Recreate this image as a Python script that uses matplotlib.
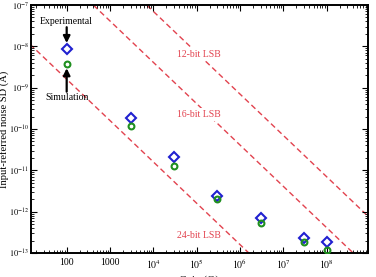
import matplotlib
matplotlib.use('Agg')
import matplotlib.pyplot as plt
import matplotlib.ticker as mticker
import numpy as np

plt.rcParams['font.family'] = ['Liberation Serif', 'DejaVu Serif']
plt.rcParams['mathtext.fontset'] = 'stix'

# gain values (ohm) and measured / simulated noise (A)
gains = [100, 3e3, 3e4, 3e5, 3e6, 3e7, 1e8]
experimental = [8.6e-9, 1.8e-10, 2.1e-11, 2.4e-12, 7.2e-13, 2.3e-13, 1.8e-13]
simulation = [3.7e-9, 1.2e-10, 1.3e-11, 2.0e-12, 5.4e-13, 1.8e-13, 1.17e-13]

# LSB current levels: LSB voltage divided by gain
lsb_bits = [12, 16, 24]
lsb_volts = [7.0e-4, 4.1e-5, 1.6e-7]
lsb_text_y = [6.5e-9, 2.2e-10, 2.7e-13]

xtick_vals = [1e2, 1e3, 1e4, 1e5, 1e6, 1e7, 1e8]
xtick_labels = ['100', '1000', r'$10^4$', r'$10^5$', r'$10^6$', r'$10^7$', r'$10^8$']
ytick_vals = [1e-13, 1e-12, 1e-11, 1e-10, 1e-9, 1e-8, 1e-7]
ytick_labels = [r'$10^{\mathsf{-}%d}$' % e for e in [13, 12, 11, 10, 9, 8, 7]]

fig = plt.figure(figsize=(3.76, 2.77), dpi=100)
ax = fig.add_axes([0.0824, 0.0866, 0.8963, 0.8954])

red = '#e2434f'
g_line = np.array([10.0, 2e9])
for bits, v, ty in zip(lsb_bits, lsb_volts, lsb_text_y):
    ax.plot(g_line, v / g_line, color=red, lw=1.0, ls=(0, (4, 2.5)), zorder=1)
    ax.text(1.1e5, ty, '%d-bit LSB' % bits, color=red, fontsize=7, ha='center', va='center',
            bbox=dict(facecolor='white', edgecolor='none', pad=1.5), zorder=2)

ax.plot(gains, experimental, ls='none', marker='D', ms=4.8, mfc='none', mec='#2020d0', mew=1.5, zorder=3)
ax.plot(gains, simulation, ls='none', marker='o', ms=4.2, mfc='none', mec='#1f8f1f', mew=1.5, zorder=3)

# arrows pointing to first pair
ax.text(100, 3.9e-8, 'Experimental', fontsize=7, ha='center', va='center')
ax.annotate('', xy=(100, 1.2e-8), xytext=(100, 2.9e-8),
            arrowprops=dict(arrowstyle='-|>', color='k', lw=1.6, mutation_scale=10, shrinkA=0, shrinkB=0))
ax.text(100, 5.7e-10, 'Simulation', fontsize=7, ha='center', va='center')
ax.annotate('', xy=(100, 2.95e-9), xytext=(100, 8.0e-10),
            arrowprops=dict(arrowstyle='-|>', color='k', lw=1.6, mutation_scale=10, shrinkA=0, shrinkB=0))

ax.set_xscale('log')
ax.set_yscale('log')
ax.set_xlim(15, 9e8)
ax.set_ylim(1e-13, 1e-7)

ax.set_xticks(xtick_vals)
ax.set_xticklabels(xtick_labels)
ax.xaxis.set_minor_locator(mticker.LogLocator(base=10, subs=np.arange(2, 10), numticks=20))
ax.xaxis.set_minor_formatter(mticker.NullFormatter())
ax.set_yticks(ytick_vals)
ax.set_yticklabels(ytick_labels)
ax.yaxis.set_minor_locator(mticker.LogLocator(base=10, subs=np.arange(2, 10), numticks=20))
ax.yaxis.set_minor_formatter(mticker.NullFormatter())

ax.tick_params(which='both', direction='in', top=True, right=True, labelsize=7)
ax.tick_params(axis='y', labelsize=6, pad=1.5)
ax.tick_params(which='major', length=4, width=0.8)
ax.tick_params(which='minor', length=2, width=0.6)
for s in ax.spines.values():
    s.set_linewidth(1.4)

ax.set_xlabel('Gain (Ω)', fontsize=8, labelpad=3)
ax.set_ylabel('Input-referred noise SD (A)', fontsize=7.6)
ax.yaxis.set_label_coords(-0.066, 0.5)

fig.savefig('out.png', dpi=100)
